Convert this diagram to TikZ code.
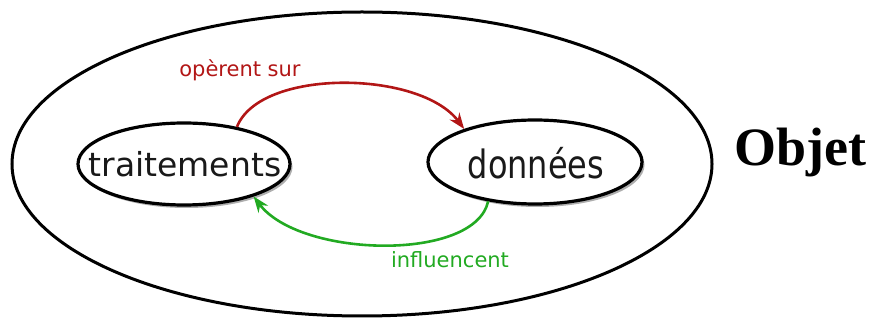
\documentclass[tikz,border=0pt]{standalone}
\usepackage{fontspec}
\setmainfont{DejaVu Sans}
\newfontfamily\titlefont{Liberation Serif}
\usetikzlibrary{shapes.geometric,arrows.meta,shadows}

\definecolor{arrowred}{RGB}{178,22,22}
\definecolor{arrowgreen}{RGB}{34,170,34}

\tikzset{
  concept/.style={ellipse, draw=black, line width=3.2pt, fill=white,
    inner sep=0pt,
    drop shadow={shadow xshift=2.5pt, shadow yshift=-3pt, opacity=0.45, fill=black!70}},
  conceptlabel/.style={inner sep=0pt, text=black!90},
  relation/.style={line width=2.6pt, -{Stealth[length=16pt,width=12pt]}},
  relabel/.style={font=\fontsize{21}{25}\selectfont, inner sep=0pt},
}

\begin{document}
\begin{tikzpicture}[x=1pt,y=-1pt]
  \useasboundingbox (0,0) rectangle (870,320);

  % enclosing object
  \node[ellipse, draw=black, line width=3pt, minimum width=700pt,
        minimum height=304pt, inner sep=0pt] (objet) at (362,164) {};

  % the two components: outline first, label on top
  \node[concept, minimum width=212pt, minimum height=82pt] (trait) at (184,164) {};
  \node[conceptlabel, font=\fontsize{33}{38}\selectfont] (traittxt) at (185,164)
    {traitements};
  \node[concept, minimum width=214pt, minimum height=84pt] (donn) at (535,162) {};
  \node[conceptlabel] (donntxt) at (536,163)
    {\scalebox{0.82}[1]{\fontsize{39}{44}\selectfont données}};

  % relations
  \draw[relation, arrowred] (trait.35) .. controls (260,68) and (420,70) .. (donn.155);
  \draw[relation, arrowgreen] (donn.220) .. controls (475,262) and (300,258) .. (trait.335);

  \node[relabel, text=arrowred] (lop) at (240,70) {opèrent sur};
  \node[relabel, text=arrowgreen] (linf) at (450,260) {influencent};

  % title
  \node[font=\titlefont\bfseries\fontsize{54}{60}\selectfont, inner sep=0pt,
        anchor=base] (titre) at (800,166) {Objet};
\end{tikzpicture}
\end{document}
